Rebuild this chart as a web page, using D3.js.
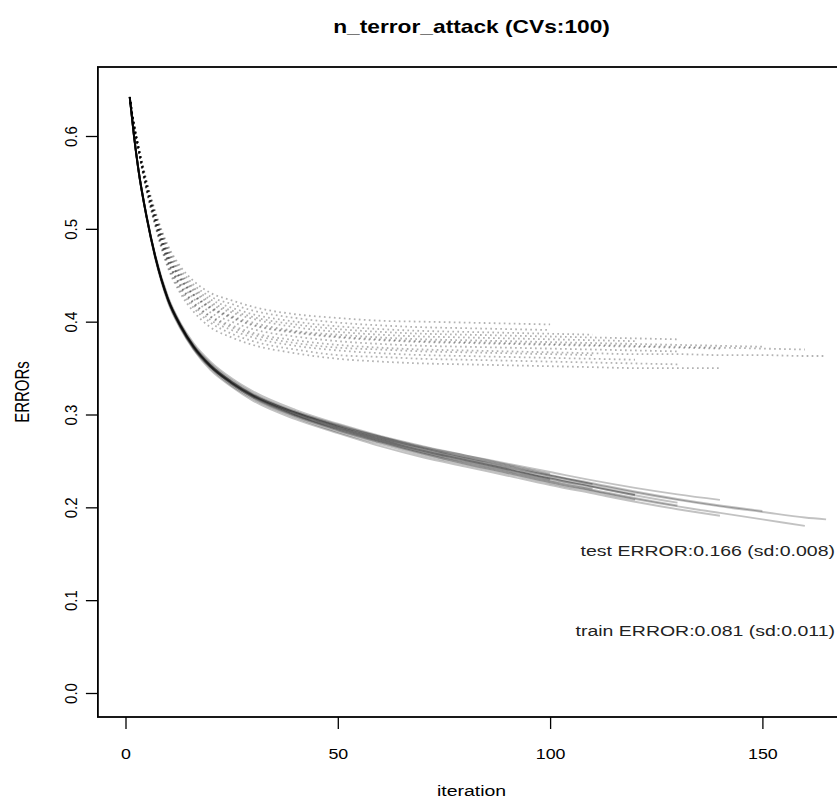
<!DOCTYPE html>
<html>
<head>
<meta charset="utf-8">
<script src="https://cdn.jsdelivr.net/npm/d3@7"></script>
<style>
  body { margin: 0; background: #fff; }
  svg { display: block; font-family: "Liberation Sans", Arial, sans-serif; }
</style>
</head>
<body>
<div id="chart"></div>
<script>
// iteration grid shared by every CV curve (a curve stops where its array stops)
var iterations = [1, 2, 3, 5, 7, 10, 13, 16, 20, 25, 30, 40, 50, 60, 70, 80, 90, 100, 110, 120, 130, 140, 150, 160, 165];

// training error curves (solid)
var trainCurves = [
  [0.642,0.601,0.566,0.513,0.471,0.426,0.397,0.375,0.355,0.337,0.323,0.303,0.289,0.276,0.264,0.254,0.244,0.234,0.225],
  [0.641,0.599,0.564,0.511,0.469,0.422,0.393,0.371,0.350,0.331,0.317,0.297,0.281,0.268,0.256,0.246,0.236,0.226,0.217,0.208],
  [0.642,0.600,0.566,0.513,0.471,0.425,0.396,0.374,0.353,0.335,0.321,0.302,0.287,0.274,0.262,0.252,0.242,0.232,0.223,0.214],
  [0.642,0.600,0.565,0.512,0.470,0.423,0.394,0.372,0.351,0.333,0.319,0.299,0.283,0.270,0.258,0.248,0.238,0.228,0.219,0.210,0.202],
  [0.643,0.601,0.565,0.512,0.470,0.424,0.395,0.373,0.352,0.334,0.320,0.300,0.285,0.272,0.260,0.250,0.240,0.230],
  [0.642,0.601,0.566,0.514,0.472,0.427,0.398,0.377,0.357,0.339,0.325,0.305,0.290,0.277,0.266,0.256,0.246,0.236],
  [0.641,0.599,0.564,0.511,0.468,0.421,0.392,0.370,0.348,0.330,0.315,0.295,0.280,0.266,0.254,0.244,0.234,0.224,0.215,0.206,0.198,0.191],
  [0.642,0.600,0.565,0.513,0.471,0.425,0.396,0.374,0.354,0.336,0.322,0.303,0.288,0.276,0.265,0.256,0.247,0.238,0.229,0.221,0.214,0.208],
  [0.642,0.600,0.565,0.512,0.470,0.424,0.396,0.374,0.353,0.335,0.321,0.302,0.288,0.275,0.264,0.254,0.245,0.235,0.226,0.217,0.209,0.202,0.196],
  [0.642,0.600,0.565,0.512,0.470,0.424,0.395,0.374,0.353,0.335,0.321,0.302,0.287,0.274,0.263,0.253,0.243,0.234,0.225,0.216,0.208,0.201,0.195,0.189,0.187],
  [0.642,0.600,0.565,0.512,0.470,0.424,0.394,0.372,0.351,0.333,0.318,0.298,0.283,0.270,0.258,0.247,0.237,0.227,0.218,0.209,0.201,0.194,0.187,0.180],
  [0.642,0.600,0.565,0.512,0.470,0.424,0.395,0.373,0.352,0.334,0.320,0.300,0.285,0.272,0.261,0.251,0.241,0.231,0.222,0.213,0.205],
  [0.642,0.600,0.565,0.512,0.470,0.424,0.395,0.373,0.352,0.333,0.319,0.299,0.284,0.271,0.259,0.249,0.239,0.229,0.220],
  [0.642,0.600,0.565,0.512,0.470,0.424,0.395,0.373,0.352,0.334,0.320,0.301,0.286,0.273,0.261,0.251,0.241,0.231,0.222,0.213]
];

// test error curves (dotted)
var testCurves = [
  [0.642,0.613,0.591,0.551,0.519,0.482,0.459,0.444,0.431,0.423,0.416,0.408,0.404,0.401,0.400,0.399,0.398,0.397],
  [0.641,0.610,0.585,0.540,0.503,0.458,0.430,0.411,0.394,0.383,0.375,0.366,0.360,0.357,0.355,0.354,0.353,0.352,0.351,0.350,0.350,0.350],
  [0.642,0.611,0.587,0.543,0.507,0.465,0.439,0.421,0.406,0.396,0.388,0.380,0.375,0.372,0.370,0.369,0.368,0.367,0.366,0.365,0.365,0.364,0.364,0.363,0.363],
  [0.642,0.612,0.590,0.549,0.516,0.477,0.453,0.437,0.424,0.415,0.408,0.400,0.395,0.392,0.390,0.389,0.388,0.387,0.386],
  [0.642,0.612,0.589,0.547,0.513,0.473,0.449,0.433,0.419,0.410,0.403,0.394,0.389,0.386,0.384,0.383,0.382,0.381,0.380,0.379],
  [0.642,0.611,0.587,0.544,0.509,0.467,0.442,0.425,0.410,0.400,0.392,0.384,0.379,0.376,0.374,0.373,0.372,0.371,0.370,0.369,0.368],
  [0.642,0.612,0.588,0.545,0.511,0.470,0.445,0.428,0.414,0.404,0.396,0.388,0.383,0.380,0.378,0.377,0.376,0.375,0.374,0.373,0.372,0.371],
  [0.641,0.611,0.586,0.542,0.506,0.463,0.436,0.418,0.402,0.391,0.383,0.374,0.369,0.366,0.364,0.363,0.362,0.361,0.360,0.359],
  [0.642,0.613,0.590,0.550,0.517,0.479,0.456,0.440,0.427,0.419,0.412,0.404,0.399,0.396,0.394,0.393,0.392,0.391],
  [0.642,0.612,0.588,0.546,0.512,0.471,0.447,0.430,0.416,0.406,0.399,0.390,0.386,0.383,0.381,0.380,0.379,0.378,0.377,0.376,0.375,0.374,0.373],
  [0.642,0.611,0.587,0.543,0.507,0.465,0.438,0.420,0.405,0.394,0.386,0.377,0.372,0.370,0.368,0.367,0.366,0.365,0.364],
  [0.642,0.612,0.589,0.548,0.514,0.475,0.451,0.435,0.421,0.412,0.405,0.397,0.392,0.389,0.387,0.386,0.385,0.384,0.383,0.382,0.381],
  [0.641,0.610,0.586,0.541,0.504,0.460,0.433,0.415,0.399,0.387,0.379,0.370,0.364,0.362,0.360,0.359,0.358,0.357,0.356,0.355,0.354],
  [0.642,0.612,0.588,0.545,0.511,0.470,0.446,0.429,0.415,0.405,0.397,0.389,0.384,0.381,0.379,0.378,0.377,0.376,0.375,0.374,0.373,0.372,0.371,0.370]
];

var xTicks = [0, 50, 100, 150];
var yTicks = [0, 0.1, 0.2, 0.3, 0.4, 0.5, 0.6];
var titleText = "n_terror_attack (CVs:100)";
var notes = ["test ERROR:0.166 (sd:0.008)", "train ERROR:0.081 (sd:0.011)"];
var noteValues = [0.148, 0.061];

var width = 837;
var height = 800;
var stretch = 1.3;      // the original png is stretched sideways, text too
var tickStretch = 1.15;

var svg = d3.select('#chart')
    .append('svg')
    .attr('width', width)
    .attr('height', height);

var x = d3.scaleLinear().domain([0, 150]).range([125.5, 762.4]);
var y = d3.scaleLinear().domain([0, 0.6]).range([693, 136]);

// plot box (xlim 0..163 with R's 4% padding, right edge falls outside the picture)
var boxLeft = x(-6.5), boxRight = x(169.5), boxTop = 67, boxBottom = 717;

var line = d3.line()
    .x(function (d) { return x(d[0]); })
    .y(function (d) { return y(d[1]); })
    .curve(d3.curveMonotoneX);

function pairs(vals) {
    return vals.map(function (v, i) { return [iterations[i], v]; });
}

var g = svg.append('g');

g.selectAll('path.test')
    .data(testCurves)
    .enter()
    .append('path')
    .attr('class', 'test')
    .attr('fill', 'none')
    .attr('stroke', '#000')
    .attr('stroke-opacity', 0.3)
    .attr('stroke-width', 1.8)
    .attr('stroke-dasharray', '1.7,3.3')
    .attr('d', function (d) { return line(pairs(d)); });

g.selectAll('path.train')
    .data(trainCurves)
    .enter()
    .append('path')
    .attr('class', 'train')
    .attr('fill', 'none')
    .attr('stroke', '#000')
    .attr('stroke-opacity', 0.24)
    .attr('stroke-width', 1.9)
    .attr('d', function (d) { return line(pairs(d)); });

svg.append('rect')
    .attr('x', boxLeft)
    .attr('y', boxTop)
    .attr('width', boxRight - boxLeft)
    .attr('height', boxBottom - boxTop)
    .attr('fill', 'none')
    .attr('stroke', '#000')
    .attr('stroke-width', 1.8);

var xAxis = svg.append('g')
    .attr('transform', 'translate(0,' + boxBottom + ')')
    .call(d3.axisBottom(x).tickValues(xTicks).tickSize(12).tickFormat(d3.format('d')));
xAxis.select('.domain').remove();
xAxis.selectAll('line').attr('stroke-width', 1.3);
xAxis.selectAll('text')
    .attr('font-size', 15.5).attr('fill', '#000')
    .attr('font-family', '"Liberation Sans", Arial, sans-serif')
    .attr('y', null).attr('dy', null)
    .attr('transform', 'translate(0,42) scale(' + tickStretch + ',1)');

var yAxis = svg.append('g')
    .attr('transform', 'translate(' + boxLeft + ',0)')
    .call(d3.axisLeft(y).tickValues(yTicks).tickSize(12).tickFormat(d3.format('.1f')));
yAxis.select('.domain').remove();
yAxis.selectAll('line').attr('stroke-width', 1.3);
yAxis.selectAll('text')
    .attr('font-size', 15).attr('fill', '#000')
    .attr('font-family', '"Liberation Sans", Arial, sans-serif')
    .attr('x', null).attr('dy', null)
    .attr('text-anchor', 'middle')
    .attr('transform', 'translate(-21,0) scale(' + tickStretch + ',1) rotate(-90)');

svg.append('text')
    .attr('transform', 'translate(' + ((boxLeft + boxRight) / 2) + ',33) scale(' + stretch + ',1)')
    .attr('text-anchor', 'middle')
    .attr('font-size', 17.5)
    .attr('font-weight', 'bold')
    .text(titleText);

svg.append('text')
    .attr('transform', 'translate(' + ((boxLeft + boxRight) / 2) + ',796) scale(' + stretch + ',1)')
    .attr('text-anchor', 'middle')
    .attr('font-size', 15)
    .text('iteration');

svg.append('text')
    .attr('transform', 'translate(29,' + ((boxTop + boxBottom) / 2) + ') scale(' + stretch + ',1) rotate(-90)')
    .attr('text-anchor', 'middle')
    .attr('font-size', 15)
    .text('ERRORs');

svg.selectAll('text.note')
    .data(notes)
    .enter()
    .append('text')
    .attr('class', 'note')
    .attr('transform', function (d, i) {
        return 'translate(835,' + y(noteValues[i]) + ') scale(' + stretch + ',1)';
    })
    .attr('text-anchor', 'end')
    .attr('font-size', 15)
    .attr('fill', '#222')
    .text(function (d) { return d; });
</script>
</body>
</html>
